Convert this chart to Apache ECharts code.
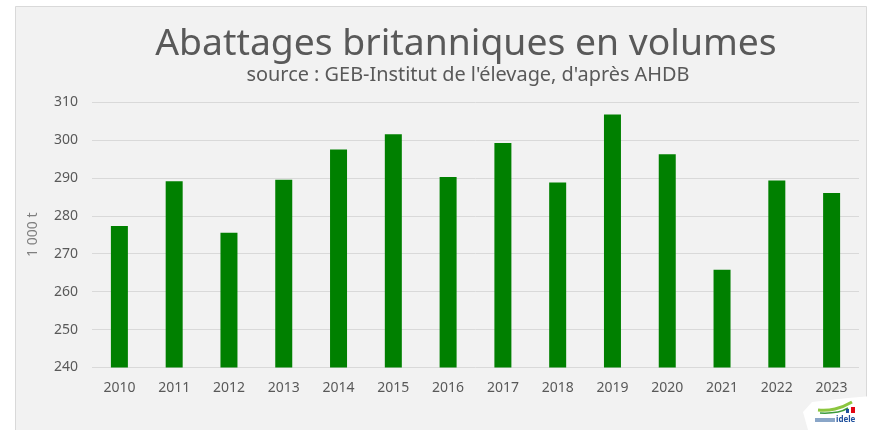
<!DOCTYPE html>
<html>
<head>
<meta charset="utf-8">
<script src="https://cdn.jsdelivr.net/npm/echarts@6/dist/echarts.min.js"></script>
<style>
  html, body { margin: 0; padding: 0; background: #ffffff; }
  #chart { width: 873px; height: 430px; }
</style>
</head>
<body>
<div id="chart"></div>
<script>
var years = ['2010','2011','2012','2013','2014','2015','2016','2017','2018','2019','2020','2021','2022','2023'];
var volumes = [277.3, 289.1, 275.5, 289.5, 297.5, 301.5, 290.2, 299.2, 288.8, 306.7, 296.2, 265.8, 289.3, 286.0];
var yTicks = [240, 250, 260, 270, 280, 290, 300, 310];

var titleText = 'Abattages britanniques en volumes';
var subText = "source : GEB-Institut de l'élevage, d'après AHDB";
var fontFam = '"Noto Sans", "DejaVu Sans", sans-serif';

// taille de police pour que le texte ait la largeur voulue
function fitSize(txt, w, weight) {
  var ctx = document.createElement('canvas').getContext('2d');
  ctx.font = weight + ' 100px ' + fontFam;
  return Math.round(100 * w / ctx.measureText(txt).width * 10) / 10;
}
var titleSize = fitSize(titleText, 621, 'normal');
var subSize = fitSize(subText, 443, 'normal');

var chart = echarts.init(document.getElementById('chart'));

chart.setOption({
  animation: false,
  backgroundColor: '#ffffff',
  graphic: [
    {
      type: 'rect', z: -10, silent: true,
      shape: { x: 15.5, y: 6.5, width: 851, height: 440 },
      style: { fill: '#f2f2f2', stroke: '#d9d9d9', lineWidth: 1 }
    },
    {
      type: 'text', silent: true,
      style: { text: titleText, x: 466, y: 44, align: 'center', verticalAlign: 'middle',
               font: titleSize + 'px ' + fontFam, fill: '#595959' }
    },
    {
      type: 'text', silent: true,
      style: { text: subText, x: 468, y: 75, align: 'center', verticalAlign: 'middle',
               font: subSize + 'px ' + fontFam, fill: '#595959' }
    },
    // petit logo en bas a droite
    {
      type: 'group', silent: true, z: 10,
      children: [
        { type: 'polygon', shape: { points: [[808, 430], [803, 412], [812, 402], [848, 398], [872, 396], [868, 430]] },
          style: { fill: '#ffffff' } },
        { type: 'polyline', shape: { points: [[818, 410], [835, 409], [852, 402]], smooth: 0.5 },
          style: { stroke: '#8cc63f', lineWidth: 3, fill: null } },
        { type: 'polyline', shape: { points: [[820, 413], [838, 412], [848, 408]], smooth: 0.5 },
          style: { stroke: '#3a9a3a', lineWidth: 1.5, fill: null } },
        { type: 'rect', shape: { x: 851, y: 407, width: 4, height: 6 }, style: { fill: '#e30613' } },
        { type: 'rect', shape: { x: 846, y: 409, width: 3, height: 4 }, style: { fill: '#1d4f9c' } },
        { type: 'text', style: { text: 'idele', x: 836, y: 420, align: 'left', verticalAlign: 'middle',
                                 font: 'bold 8px ' + fontFam, fill: '#1d4f9c' } },
        { type: 'rect', shape: { x: 815, y: 418, width: 20, height: 4 }, style: { fill: '#8aa6c8' } }
      ]
    }
  ],
  grid: { left: 92, right: 14, top: 102, bottom: 62.5 },
  xAxis: {
    type: 'category',
    data: years,
    axisLine: { show: false },
    axisTick: { show: false },
    axisLabel: { color: '#595959', fontSize: 14, fontFamily: fontFam, margin: 14 }
  },
  yAxis: {
    type: 'value',
    min: yTicks[0],
    max: yTicks[yTicks.length - 1],
    interval: 10,
    name: '1 000 t',
    nameLocation: 'middle',
    nameGap: 52,
    nameTextStyle: { color: '#7f7f7f', fontSize: 14, fontFamily: fontFam },
    axisLine: { show: false },
    axisTick: { show: false },
    axisLabel: { color: '#595959', fontSize: 14, fontFamily: fontFam, margin: 14 },
    splitLine: { lineStyle: { color: '#d9d9d9', width: 1 } }
  },
  series: [
    {
      type: 'bar',
      data: volumes,
      barWidth: 17,
      itemStyle: { color: '#008000' }
    }
  ]
});
</script>
</body>
</html>
